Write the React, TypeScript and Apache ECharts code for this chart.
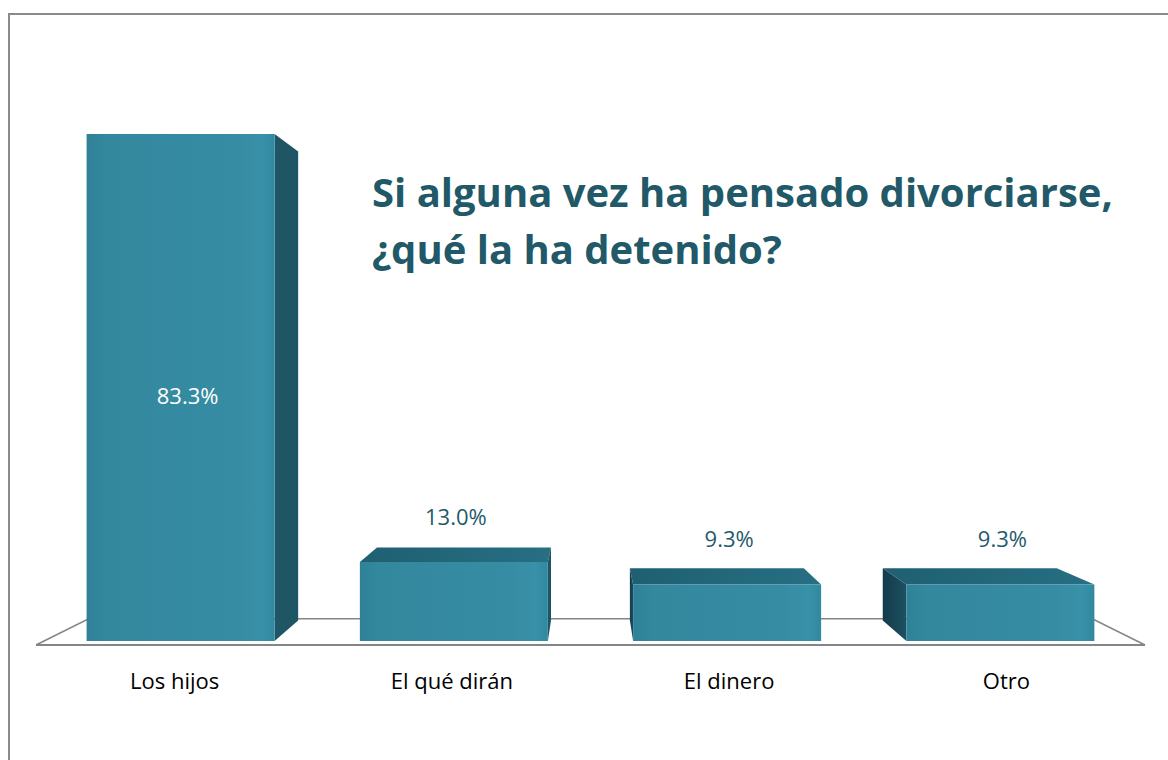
import React, { useEffect, useRef } from "react";
import * as echarts from "echarts";

const categories = ["Los hijos", "El qué dirán", "El dinero", "Otro"];
const values = [83.3, 13.0, 9.3, 9.3];
const valueLabels = ["83.3%", "13.0%", "9.3%", "9.3%"];
const titleLines = ["Si alguna vez ha pensado divorciarse,", "¿qué la ha detenido?"];

// perspective settings (vanishing point and depth factors)
const VX = 590;
const VY = 368;
const K_FRONT = 0.9856;
const K_BACK = 0.912;
const K_FLOOR = 0.905;

const proj = (x: number, y: number, k: number): number[] => [VX + k * (x - VX), VY + k * (y - VY)];

const FONT = "'Open Sans', 'Noto Sans', sans-serif";

export default function App() {
  const ref = useRef<HTMLDivElement>(null);
  useEffect(() => {
    if (!ref.current) return;
    const chart = echarts.init(ref.current, null, { renderer: "svg" });

    const barData = values.map((v, i) => [i, v]);

    const option: any = {
      animation: false,
      backgroundColor: "#ffffff",
      grid: { left: 36, right: 23, top: 27.5, bottom: 115, containLabel: false },
      xAxis: {
        type: "category",
        data: categories,
        axisLine: { show: false },
        axisTick: { show: false },
        splitLine: { show: false },
        axisLabel: { color: "#000000", fontSize: 22, fontFamily: FONT, margin: 24 },
      },
      yAxis: {
        type: "value",
        min: 0,
        max: 100,
        show: false,
        splitLine: { show: false },
      },
      graphic: [
        {
          type: "rect",
          shape: { x: 9, y: 14, width: 1200, height: 800 },
          style: { fill: "none", stroke: "#8a8a8a", lineWidth: 2 },
          z: 0,
          silent: true,
        },
        {
          type: "text",
          x: 372,
          y: 191,
          style: {
            text: titleLines[0],
            fill: "#215968",
            font: `bold 40px ${FONT}`,
            align: "left",
            verticalAlign: "middle",
          },
          z: 10,
        },
        {
          type: "text",
          x: 372,
          y: 248,
          style: {
            text: titleLines[1],
            fill: "#215968",
            font: `bold 40px ${FONT}`,
            align: "left",
            verticalAlign: "middle",
          },
          z: 10,
        },
      ],
      series: [
        {
          type: "custom",
          z: 1,
          silent: true,
          data: [[0]],
          renderItem: (params: any, api: any) => {
            const cs = params.coordSys;
            const fl = [cs.x, cs.y + cs.height];
            const fr = [cs.x + cs.width, cs.y + cs.height];
            const bl = proj(fl[0], fl[1], K_FLOOR);
            const br = proj(fr[0], fr[1], K_FLOOR);
            return {
              type: "group",
              children: [
                {
                  type: "polyline",
                  shape: { points: [fl, bl, br, fr] },
                  style: { stroke: "#858585", lineWidth: 1.6, fill: "none" },
                },
                {
                  type: "line",
                  shape: { x1: fl[0], y1: fl[1], x2: fr[0], y2: fr[1] },
                  style: { stroke: "#858585", lineWidth: 2 },
                },
              ],
            };
          },
        },
        {
          type: "custom",
          z: 2,
          silent: true,
          data: barData,
          renderItem: (params: any, api: any) => {
            const i = api.value(0);
            const v = api.value(1);
            const top = api.coord([i, v]);
            const base = api.coord([i, 0]);
            const band = api.size([1, 0])[0];
            const hw = band * 0.344;
            const cx = top[0];
            const FTL = proj(cx - hw, top[1], K_FRONT);
            const FTR = proj(cx + hw, top[1], K_FRONT);
            const FBL = proj(cx - hw, base[1], K_FRONT);
            const FBR = proj(cx + hw, base[1], K_FRONT);
            const BTL = proj(cx - hw, top[1], K_BACK);
            const BTR = proj(cx + hw, top[1], K_BACK);
            const BBL = proj(cx - hw, base[1], K_BACK);
            const BBR = proj(cx + hw, base[1], K_BACK);
            const children: any[] = [];
            if (FTL[1] > VY) {
              children.push({
                type: "polygon",
                shape: { points: [FTL, FTR, BTR, BTL] },
                style: {
                  fill: new echarts.graphic.LinearGradient(0, 0, 1, 0, [
                    { offset: 0, color: "#1f5f72" },
                    { offset: 1, color: "#276f83" },
                  ]),
                },
              });
            }
            if (cx < VX) {
              children.push({
                type: "polygon",
                shape: { points: [FTR, BTR, BBR, FBR] },
                style: { fill: "#1e5666" },
              });
            } else {
              children.push({
                type: "polygon",
                shape: { points: [FTL, BTL, BBL, FBL] },
                style: {
                  fill: new echarts.graphic.LinearGradient(0, 0, 1, 0, [
                    { offset: 0, color: "#133a4a" },
                    { offset: 1, color: "#1d5163" },
                  ]),
                },
              });
            }
            children.push({
              type: "polygon",
              shape: { points: [FTL, FTR, FBR, FBL] },
              style: {
                fill: new echarts.graphic.LinearGradient(0, 0, 1, 0, [
                  { offset: 0, color: "#2f8196" },
                  { offset: 0.1, color: "#33889e" },
                  { offset: 0.8, color: "#368ca3" },
                  { offset: 0.93, color: "#3891a8" },
                  { offset: 1, color: "#3189a0" },
                ]),
              },
            });
            const inside = v > 50;
            const lx = (FTL[0] + FTR[0]) / 2 + (inside ? 7 : 2);
            const ly = inside ? (FTL[1] + FBL[1]) / 2 + 7 : FTL[1] - 46;
            children.push({
              type: "text",
              style: {
                text: valueLabels[params.dataIndex],
                x: lx,
                y: ly,
                align: "center",
                verticalAlign: "middle",
                fill: inside ? "#ffffff" : "#1f5a6b",
                font: `22px ${FONT}`,
              },
            });
            return { type: "group", children };
          },
        },
      ],
    };
    chart.setOption(option);
    return () => chart.dispose();
  }, []);

  return (
    <div
      ref={ref}
      style={{ position: "fixed", left: 0, top: 0, width: 1168, height: 760, background: "#fff" }}
    />
  );
}
